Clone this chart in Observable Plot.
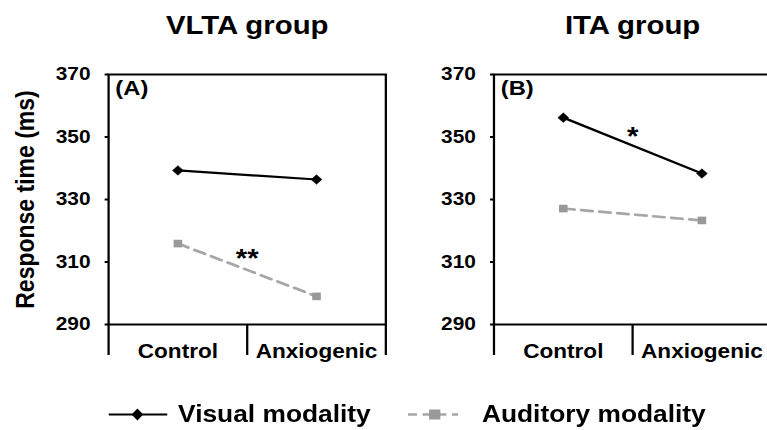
<!DOCTYPE html>
<html><head><meta charset="utf-8">
<script src="https://cdn.jsdelivr.net/npm/d3@7"></script>
<script src="https://cdn.jsdelivr.net/npm/@observablehq/plot@0.6"></script>
<style>
html,body{margin:0;padding:0;background:#fff;overflow:hidden;}
#clip{width:767px;height:430px;overflow:hidden;position:relative;background:#fff;}
#stage{width:682px;transform:scaleX(1.13);transform-origin:0 0;font-family:"Liberation Sans",Arial,sans-serif;}
#legend{position:relative;height:50px;font-weight:bold;font-size:23.3px;color:#000;}
.item{position:absolute;top:34px;transform:translateY(-50%);display:flex;align-items:center;white-space:nowrap;}
.item svg{display:block;}
</style></head><body>
<div id="clip"><div id="stage"><div id="chart"></div><div id="legend"></div></div></div>
<script>
// ---- data ----
const groups = ["VLTA group", "ITA group"];
const panelLabels = ["(A)", "(B)"];
const conditions = ["Control", "Anxiogenic"];
const modalities = ["Visual modality", "Auditory modality"];
const visualVLTA = [339.3, 336.4];
const auditoryVLTA = [315.9, 299.0];
const visualITA = [356.2, 338.3];
const auditoryITA = [327.1, 323.3];
const yTicks = [290, 310, 330, 350, 370];
const sigText = ["**", "*"];
const sigY = [311, 350];

const seriesByGroup = {
  "VLTA group": {"Visual modality": visualVLTA, "Auditory modality": auditoryVLTA},
  "ITA group": {"Visual modality": visualITA, "Auditory modality": auditoryITA}
};
const rows = [];
for (const g of groups) for (const m of modalities) conditions.forEach((c, i) => {
  rows.push({group: g, modality: m, condition: c, value: seriesByGroup[g][m][i]});
});
const sig = groups.map((g, i) => ({group: g, text: sigText[i], y: sigY[i]}));
const xPos = d => conditions.indexOf(d.condition) + 0.5;
const visual = rows.filter(d => d.modality === modalities[0]);
const auditory = rows.filter(d => d.modality === modalities[1]);

const chart = Plot.plot({
  width: 682, height: 380,
  marginLeft: 95.6, marginRight: 0, marginTop: 74, marginBottom: 56,
  style: {fontFamily: '"Liberation Sans", Arial, sans-serif', color: "#000", background: "#fff", overflow: "visible"},
  fx: {domain: groups, paddingInner: 0.2806, paddingOuter: 0, round: false, axis: null, label: null},
  x: {domain: [0, conditions.length]},
  y: {domain: [yTicks[0], yTicks[yTicks.length - 1]]},
  marks: [
    Plot.frame({stroke: "#000", strokeWidth: 2}),
    Plot.axisY({facetAnchor: null, ticks: yTicks, tickSize: 3, tickPadding: 13, label: null,
      fontSize: 18.5, fontWeight: "bold", strokeWidth: 2}),
    Plot.axisY({facetAnchor: "left", ticks: [], tickSize: 0, label: "Response time (ms)", labelArrow: "none",
      labelAnchor: "center", labelOffset: 82, fontSize: 23, fontWeight: "bold"}),
    Plot.axisX({ticks: d3.range(conditions.length + 1), tickSize: 31, tickFormat: () => "", label: null, strokeWidth: 2}),
    Plot.axisX({ticks: conditions.map((c, i) => i + 0.5), tickSize: 0, tickPadding: 19,
      tickFormat: d => conditions[Math.floor(d)], label: null, fontSize: 20, fontWeight: "bold"}),
    Plot.text(groups, {fx: d => d, text: d => d, frameAnchor: "top", dy: -49, lineAnchor: "middle",
      fontSize: 26, fontWeight: "bold"}),
    Plot.text(groups, {fx: d => d, text: (d, i) => panelLabels[i], frameAnchor: "top-left", textAnchor: "start",
      dx: 6, dy: 14, lineAnchor: "middle", fontSize: 21, fontWeight: "bold"}),
    Plot.line(auditory, {fx: "group", x: xPos, y: "value", z: "group", stroke: "#a6a6a6", strokeWidth: 2.7, strokeDasharray: "10,6"}),
    Plot.dot(auditory, {fx: "group", x: xPos, y: "value", symbol: "square", r: 4.3, fill: "#999999", stroke: "none"}),
    Plot.line(visual, {fx: "group", x: xPos, y: "value", z: "group", stroke: "#000", strokeWidth: 2.2}),
    Plot.dot(visual, {fx: "group", x: xPos, y: "value", symbol: "diamond2", r: 4.3, fill: "#000", stroke: "#000", strokeWidth: 0.5}),
    Plot.text(sig, {fx: "group", x: () => 1, y: "y", text: "text", fontSize: 26, fontWeight: "bold", lineAnchor: "middle"})
  ]
});
document.getElementById("chart").append(chart);

// ---- legend ----
const legend = document.getElementById("legend");
legend.innerHTML =
  `<div class="item" style="left:95.6px"><svg width="53" height="16"><line x1="0" x2="52" y1="8" y2="8" stroke="#000" stroke-width="2.2"/><polygon points="25.6,2 30.8,8 25.6,14 20.4,8" fill="#000"/></svg><span style="margin-left:9px">${modalities[0]}</span></div>` +
  `<div class="item" style="left:361px"><svg width="45" height="16"><line x1="0" x2="44.3" y1="8" y2="8" stroke="#a6a6a6" stroke-width="2.7" stroke-dasharray="8,5"/><rect x="18.7" y="3" width="10" height="10" fill="#999999"/></svg><span style="margin-left:20.5px">${modalities[1]}</span></div>`;
</script>
</body></html>
